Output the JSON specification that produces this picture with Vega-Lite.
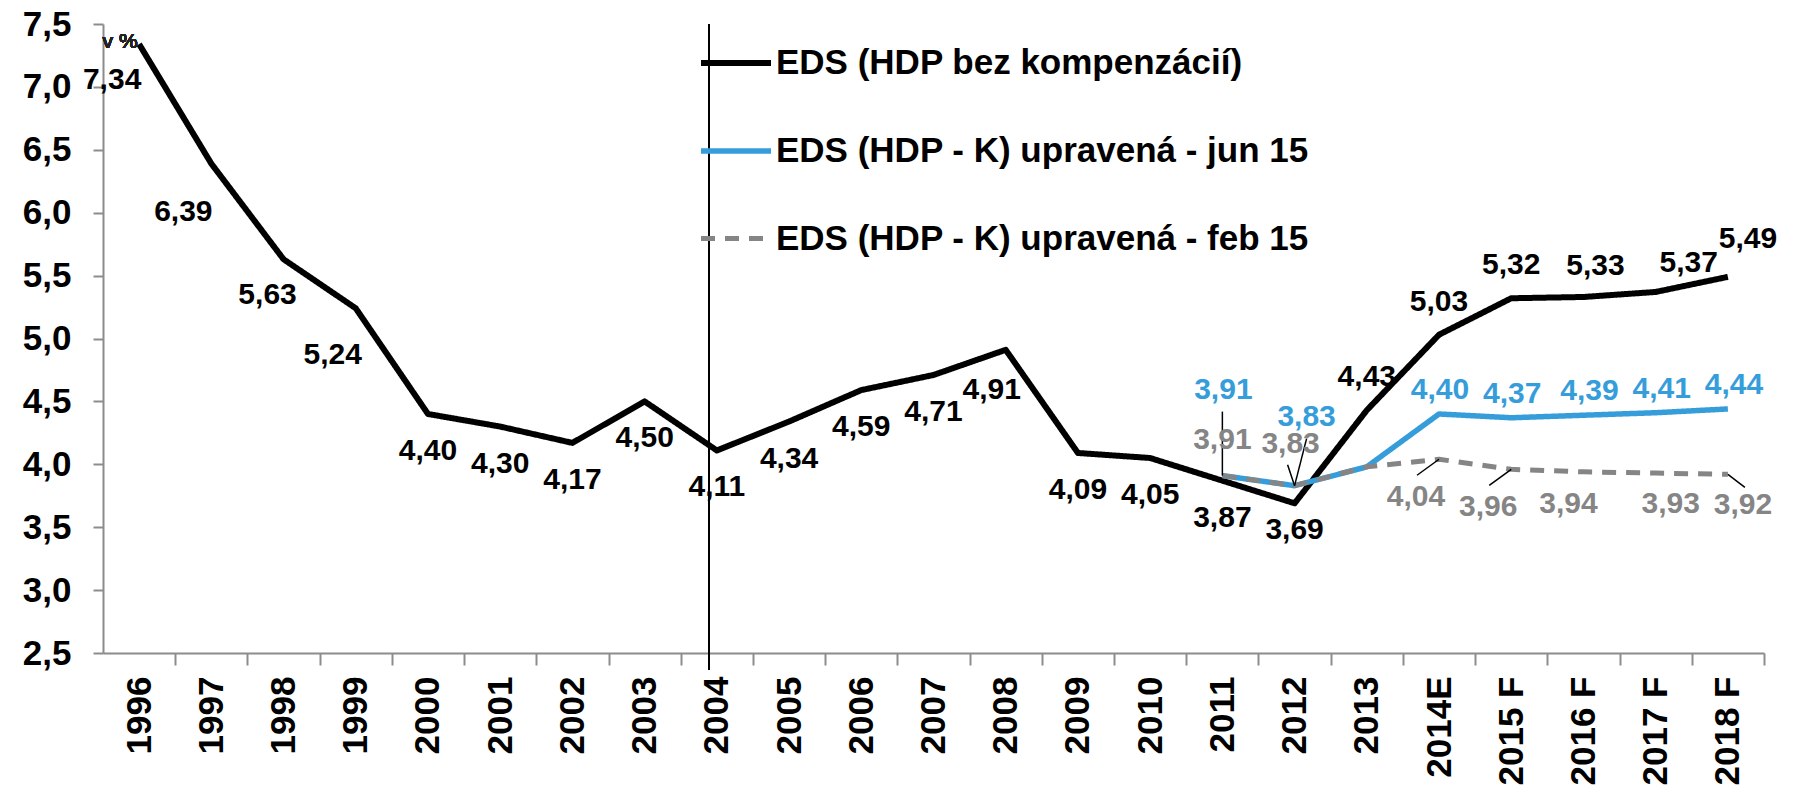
{
  "$schema": "https://vega.github.io/schema/vega-lite/v6.json",
  "width": 1661,
  "height": 629,
  "autosize": {"type": "none"},
  "padding": {"left": 103, "top": 24, "right": 30, "bottom": 137},
  "background": "#ffffff",
  "data": {"values": [
    {"year": "1996", "series": "EDS (HDP bez kompenzácií)", "value": 7.34},
    {"year": "1997", "series": "EDS (HDP bez kompenzácií)", "value": 6.39},
    {"year": "1998", "series": "EDS (HDP bez kompenzácií)", "value": 5.63},
    {"year": "1999", "series": "EDS (HDP bez kompenzácií)", "value": 5.24},
    {"year": "2000", "series": "EDS (HDP bez kompenzácií)", "value": 4.40},
    {"year": "2001", "series": "EDS (HDP bez kompenzácií)", "value": 4.30},
    {"year": "2002", "series": "EDS (HDP bez kompenzácií)", "value": 4.17},
    {"year": "2003", "series": "EDS (HDP bez kompenzácií)", "value": 4.50},
    {"year": "2004", "series": "EDS (HDP bez kompenzácií)", "value": 4.11},
    {"year": "2005", "series": "EDS (HDP bez kompenzácií)", "value": 4.34},
    {"year": "2006", "series": "EDS (HDP bez kompenzácií)", "value": 4.59},
    {"year": "2007", "series": "EDS (HDP bez kompenzácií)", "value": 4.71},
    {"year": "2008", "series": "EDS (HDP bez kompenzácií)", "value": 4.91},
    {"year": "2009", "series": "EDS (HDP bez kompenzácií)", "value": 4.09},
    {"year": "2010", "series": "EDS (HDP bez kompenzácií)", "value": 4.05},
    {"year": "2011", "series": "EDS (HDP bez kompenzácií)", "value": 3.87},
    {"year": "2012", "series": "EDS (HDP bez kompenzácií)", "value": 3.69},
    {"year": "2013", "series": "EDS (HDP bez kompenzácií)", "value": 4.43},
    {"year": "2014E", "series": "EDS (HDP bez kompenzácií)", "value": 5.03},
    {"year": "2015 F", "series": "EDS (HDP bez kompenzácií)", "value": 5.32},
    {"year": "2016 F", "series": "EDS (HDP bez kompenzácií)", "value": 5.33},
    {"year": "2017 F", "series": "EDS (HDP bez kompenzácií)", "value": 5.37},
    {"year": "2018 F", "series": "EDS (HDP bez kompenzácií)", "value": 5.49},
    {"year": "2011", "series": "EDS (HDP - K) upravená - jun 15", "value": 3.91},
    {"year": "2012", "series": "EDS (HDP - K) upravená - jun 15", "value": 3.83},
    {"year": "2013", "series": "EDS (HDP - K) upravená - jun 15", "value": 3.98},
    {"year": "2014E", "series": "EDS (HDP - K) upravená - jun 15", "value": 4.40},
    {"year": "2015 F", "series": "EDS (HDP - K) upravená - jun 15", "value": 4.37},
    {"year": "2016 F", "series": "EDS (HDP - K) upravená - jun 15", "value": 4.39},
    {"year": "2017 F", "series": "EDS (HDP - K) upravená - jun 15", "value": 4.41},
    {"year": "2018 F", "series": "EDS (HDP - K) upravená - jun 15", "value": 4.44},
    {"year": "2011", "series": "EDS (HDP - K) upravená - feb 15", "value": 3.91},
    {"year": "2012", "series": "EDS (HDP - K) upravená - feb 15", "value": 3.83},
    {"year": "2013", "series": "EDS (HDP - K) upravená - feb 15", "value": 3.98},
    {"year": "2014E", "series": "EDS (HDP - K) upravená - feb 15", "value": 4.04},
    {"year": "2015 F", "series": "EDS (HDP - K) upravená - feb 15", "value": 3.96},
    {"year": "2016 F", "series": "EDS (HDP - K) upravená - feb 15", "value": 3.94},
    {"year": "2017 F", "series": "EDS (HDP - K) upravená - feb 15", "value": 3.93},
    {"year": "2018 F", "series": "EDS (HDP - K) upravená - feb 15", "value": 3.92}
  ]},
  "encoding": {
    "x": {"field": "year", "type": "ordinal", "title": null,
      "scale": {"type": "point", "padding": 0.5, "domain": ["1996","1997","1998","1999","2000","2001","2002","2003","2004","2005","2006","2007","2008","2009","2010","2011","2012","2013","2014E","2015 F","2016 F","2017 F","2018 F"]},
      "axis": {"labelAngle": 270, "labelFontSize": 35, "tickSize": 12, "labelPadding": 11, "tickOffset": 36.1, "labelOffset": -36.1}},
    "y": {"field": "value", "type": "quantitative", "title": null,
      "scale": {"domain": [2.5, 7.5], "nice": false, "zero": false},
      "axis": {"values": [2.5,3,3.5,4,4.5,5,5.5,6,6.5,7,7.5], "format": ".1f", "labelFontSize": 35, "tickSize": 10, "labelPadding": 22}}
  },
  "layer": [
    {"mark": {"type": "rule", "color": "#000000", "strokeWidth": 1.5, "xOffset": -8},
     "encoding": {"x": {"datum": "2004"}, "y": {"datum": 2.37}, "y2": {"datum": 7.5}}},
    {"mark": {"type": "line", "strokeJoin": "round", "strokeCap": "butt"},
     "encoding": {
       "color": {"field": "series", "type": "nominal",
         "scale": {"domain": ["EDS (HDP bez kompenzácií)", "EDS (HDP - K) upravená - jun 15", "EDS (HDP - K) upravená - feb 15"], "range": ["#000000", "#369DDB", "#858585"]},
         "legend": {"title": null, "orient": "none", "legendX": 595, "legendY": 1, "symbolType": "stroke", "symbolSize": 4900, "symbolStrokeWidth": 6, "labelFontSize": 35, "labelFont": "Liberation Sans", "labelFontWeight": "bold", "labelColor": "#000000", "labelLimit": 1200, "rowPadding": 32, "labelOffset": 2, "padding": 0}},
       "strokeDash": {"field": "series", "type": "nominal",
         "scale": {"domain": ["EDS (HDP bez kompenzácií)", "EDS (HDP - K) upravená - jun 15", "EDS (HDP - K) upravená - feb 15"], "range": [[1,0],[1,0],[14,10]]},
         "legend": {"title": null, "orient": "none", "legendX": 595, "legendY": 1, "symbolType": "stroke", "symbolSize": 4900, "symbolStrokeWidth": 6, "labelFontSize": 35, "labelFont": "Liberation Sans", "labelFontWeight": "bold", "labelColor": "#000000", "labelLimit": 1200, "rowPadding": 32, "labelOffset": 2, "padding": 0}},
       "strokeWidth": {"field": "series", "type": "nominal", "legend": null,
         "scale": {"domain": ["EDS (HDP bez kompenzácií)", "EDS (HDP - K) upravená - jun 15", "EDS (HDP - K) upravená - feb 15"], "range": [6, 5, 6]}}
     }},
    {"transform": [{"filter": {"and": [{"field": "series", "equal": "EDS (HDP - K) upravená - feb 15"}, {"field": "year", "equal": "2011"}]}}],
     "mark": {"type": "rule", "color": "#000000", "strokeWidth": 1.5, "y2Offset": -64},
     "encoding": {"y2": {"field": "value"}}},
    {"transform": [{"filter": {"and": [{"field": "series", "equal": "EDS (HDP - K) upravená - feb 15"}, {"field": "year", "equal": "2012"}]}}],
     "mark": {"type": "rule", "color": "#000000", "strokeWidth": 1.5, "x2Offset": 12, "y2Offset": -47},
     "encoding": {"x2": {"field": "year"}, "y2": {"field": "value"}}},
    {"transform": [{"filter": {"and": [{"field": "series", "equal": "EDS (HDP - K) upravená - feb 15"}, {"field": "year", "equal": "2012"}]}}],
     "mark": {"type": "rule", "color": "#000000", "strokeWidth": 1.5, "x2Offset": -7, "y2Offset": -21},
     "encoding": {"x2": {"field": "year"}, "y2": {"field": "value"}}},
    {"transform": [{"filter": {"and": [{"field": "series", "equal": "EDS (HDP - K) upravená - feb 15"}, {"field": "year", "oneOf": ["2014E", "2015 F"]}]}}],
     "mark": {"type": "rule", "color": "#000000", "strokeWidth": 1.5, "x2Offset": -22, "y2Offset": 16},
     "encoding": {"x2": {"field": "year"}, "y2": {"field": "value"}}},
    {"transform": [{"filter": {"and": [{"field": "series", "equal": "EDS (HDP - K) upravená - feb 15"}, {"field": "year", "equal": "2018 F"}]}}],
     "mark": {"type": "rule", "color": "#000000", "strokeWidth": 1.5, "x2Offset": 17, "y2Offset": 13},
     "encoding": {"x2": {"field": "year"}, "y2": {"field": "value"}}},

    {"transform": [{"filter": {"and": [{"field": "series", "equal": "EDS (HDP bez kompenzácií)"}, {"field": "year", "equal": "1996"}]}}],
     "mark": {"type": "text", "dx": -27, "dy": 36, "fontSize": 30, "fontWeight": "bold", "font": "Liberation Sans", "color": "#000000"},
     "encoding": {"text": {"field": "value", "type": "quantitative", "format": ".2f"}}},
    {"transform": [{"filter": {"and": [{"field": "series", "equal": "EDS (HDP bez kompenzácií)"}, {"field": "year", "equal": "1997"}]}}],
     "mark": {"type": "text", "dx": -28, "dy": 48, "fontSize": 30, "fontWeight": "bold", "font": "Liberation Sans", "color": "#000000"},
     "encoding": {"text": {"field": "value", "type": "quantitative", "format": ".2f"}}},
    {"transform": [{"filter": {"and": [{"field": "series", "equal": "EDS (HDP bez kompenzácií)"}, {"field": "year", "equal": "1998"}]}}],
     "mark": {"type": "text", "dx": -16, "dy": 36, "fontSize": 30, "fontWeight": "bold", "font": "Liberation Sans", "color": "#000000"},
     "encoding": {"text": {"field": "value", "type": "quantitative", "format": ".2f"}}},
    {"transform": [{"filter": {"and": [{"field": "series", "equal": "EDS (HDP bez kompenzácií)"}, {"field": "year", "equal": "1999"}]}}],
     "mark": {"type": "text", "dx": -23, "dy": 47, "fontSize": 30, "fontWeight": "bold", "font": "Liberation Sans", "color": "#000000"},
     "encoding": {"text": {"field": "value", "type": "quantitative", "format": ".2f"}}},
    {"transform": [{"filter": {"and": [{"field": "series", "equal": "EDS (HDP bez kompenzácií)"}, {"field": "year", "oneOf": ["2000","2001","2002","2003","2004","2005","2006","2007","2009","2010","2011"]}]}}],
     "mark": {"type": "text", "dx": 0, "dy": 37, "fontSize": 30, "fontWeight": "bold", "font": "Liberation Sans", "color": "#000000"},
     "encoding": {"text": {"field": "value", "type": "quantitative", "format": ".2f"}}},
    {"transform": [{"filter": {"and": [{"field": "series", "equal": "EDS (HDP bez kompenzácií)"}, {"field": "year", "equal": "2008"}]}}],
     "mark": {"type": "text", "dx": -14, "dy": 40, "fontSize": 30, "fontWeight": "bold", "font": "Liberation Sans", "color": "#000000"},
     "encoding": {"text": {"field": "value", "type": "quantitative", "format": ".2f"}}},
    {"transform": [{"filter": {"and": [{"field": "series", "equal": "EDS (HDP bez kompenzácií)"}, {"field": "year", "equal": "2012"}]}}],
     "mark": {"type": "text", "dx": 0, "dy": 27, "fontSize": 30, "fontWeight": "bold", "font": "Liberation Sans", "color": "#000000"},
     "encoding": {"text": {"field": "value", "type": "quantitative", "format": ".2f"}}},
    {"transform": [{"filter": {"and": [{"field": "series", "equal": "EDS (HDP bez kompenzácií)"}, {"field": "year", "oneOf": ["2013","2014E","2015 F"]}]}}],
     "mark": {"type": "text", "dx": 0, "dy": -33, "fontSize": 30, "fontWeight": "bold", "font": "Liberation Sans", "color": "#000000"},
     "encoding": {"text": {"field": "value", "type": "quantitative", "format": ".2f"}}},
    {"transform": [{"filter": {"and": [{"field": "series", "equal": "EDS (HDP bez kompenzácií)"}, {"field": "year", "equal": "2016 F"}]}}],
     "mark": {"type": "text", "dx": 12, "dy": -31, "fontSize": 30, "fontWeight": "bold", "font": "Liberation Sans", "color": "#000000"},
     "encoding": {"text": {"field": "value", "type": "quantitative", "format": ".2f"}}},
    {"transform": [{"filter": {"and": [{"field": "series", "equal": "EDS (HDP bez kompenzácií)"}, {"field": "year", "equal": "2017 F"}]}}],
     "mark": {"type": "text", "dx": 33, "dy": -29, "fontSize": 30, "fontWeight": "bold", "font": "Liberation Sans", "color": "#000000"},
     "encoding": {"text": {"field": "value", "type": "quantitative", "format": ".2f"}}},
    {"transform": [{"filter": {"and": [{"field": "series", "equal": "EDS (HDP bez kompenzácií)"}, {"field": "year", "equal": "2018 F"}]}}],
     "mark": {"type": "text", "dx": 20, "dy": -38, "fontSize": 30, "fontWeight": "bold", "font": "Liberation Sans", "color": "#000000"},
     "encoding": {"text": {"field": "value", "type": "quantitative", "format": ".2f"}}},

    {"transform": [{"filter": {"and": [{"field": "series", "equal": "EDS (HDP - K) upravená - jun 15"}, {"field": "year", "equal": "2011"}]}}],
     "mark": {"type": "text", "dx": 1, "dy": -86, "fontSize": 30, "fontWeight": "bold", "font": "Liberation Sans", "color": "#369DDB"},
     "encoding": {"text": {"field": "value", "type": "quantitative", "format": ".2f"}}},
    {"transform": [{"filter": {"and": [{"field": "series", "equal": "EDS (HDP - K) upravená - jun 15"}, {"field": "year", "equal": "2012"}]}}],
     "mark": {"type": "text", "dx": 12, "dy": -69, "fontSize": 30, "fontWeight": "bold", "font": "Liberation Sans", "color": "#369DDB"},
     "encoding": {"text": {"field": "value", "type": "quantitative", "format": ".2f"}}},
    {"transform": [{"filter": {"and": [{"field": "series", "equal": "EDS (HDP - K) upravená - jun 15"}, {"field": "year", "oneOf": ["2014E", "2015 F"]}]}}],
     "mark": {"type": "text", "dx": 1, "dy": -24, "fontSize": 30, "fontWeight": "bold", "font": "Liberation Sans", "color": "#369DDB"},
     "encoding": {"text": {"field": "value", "type": "quantitative", "format": ".2f"}}},
    {"transform": [{"filter": {"and": [{"field": "series", "equal": "EDS (HDP - K) upravená - jun 15"}, {"field": "year", "oneOf": ["2016 F", "2017 F", "2018 F"]}]}}],
     "mark": {"type": "text", "dx": 6, "dy": -24, "fontSize": 30, "fontWeight": "bold", "font": "Liberation Sans", "color": "#369DDB"},
     "encoding": {"text": {"field": "value", "type": "quantitative", "format": ".2f"}}},

    {"transform": [{"filter": {"and": [{"field": "series", "equal": "EDS (HDP - K) upravená - feb 15"}, {"field": "year", "equal": "2011"}]}}],
     "mark": {"type": "text", "dx": 0, "dy": -36, "fontSize": 30, "fontWeight": "bold", "font": "Liberation Sans", "color": "#858585"},
     "encoding": {"text": {"field": "value", "type": "quantitative", "format": ".2f"}}},
    {"transform": [{"filter": {"and": [{"field": "series", "equal": "EDS (HDP - K) upravená - feb 15"}, {"field": "year", "equal": "2012"}]}}],
     "mark": {"type": "text", "dx": -4, "dy": -42, "fontSize": 30, "fontWeight": "bold", "font": "Liberation Sans", "color": "#858585"},
     "encoding": {"text": {"field": "value", "type": "quantitative", "format": ".2f"}}},
    {"transform": [{"filter": {"and": [{"field": "series", "equal": "EDS (HDP - K) upravená - feb 15"}, {"field": "year", "oneOf": ["2014E", "2015 F"]}]}}],
     "mark": {"type": "text", "dx": -23, "dy": 38, "fontSize": 30, "fontWeight": "bold", "font": "Liberation Sans", "color": "#858585"},
     "encoding": {"text": {"field": "value", "type": "quantitative", "format": ".2f"}}},
    {"transform": [{"filter": {"and": [{"field": "series", "equal": "EDS (HDP - K) upravená - feb 15"}, {"field": "year", "equal": "2016 F"}]}}],
     "mark": {"type": "text", "dx": -15, "dy": 32, "fontSize": 30, "fontWeight": "bold", "font": "Liberation Sans", "color": "#858585"},
     "encoding": {"text": {"field": "value", "type": "quantitative", "format": ".2f"}}},
    {"transform": [{"filter": {"and": [{"field": "series", "equal": "EDS (HDP - K) upravená - feb 15"}, {"field": "year", "oneOf": ["2017 F", "2018 F"]}]}}],
     "mark": {"type": "text", "dx": 15, "dy": 31, "fontSize": 30, "fontWeight": "bold", "font": "Liberation Sans", "color": "#858585"},
     "encoding": {"text": {"field": "value", "type": "quantitative", "format": ".2f"}}},

    {"mark": {"type": "text", "text": "v %", "dx": -19, "fontSize": 21, "fontWeight": "normal", "font": "Liberation Sans", "color": "#222222"},
     "encoding": {"x": {"datum": "1996"}, "y": {"datum": 7.36}}}
  ],
  "config": {
    "locale": {"number": {"decimal": ",", "thousands": "\u00a0", "grouping": [3], "currency": ["", "\u00a0€"]}},
    "view": {"stroke": null},
    "font": "Liberation Sans",
    "axis": {"grid": false, "domainColor": "#8c8c8c", "domainWidth": 2, "tickColor": "#8c8c8c", "tickWidth": 2, "labelColor": "#000000", "labelFont": "Liberation Sans", "labelFontWeight": "bold"},
    "text": {"baseline": "middle", "align": "center"}
  }
}
